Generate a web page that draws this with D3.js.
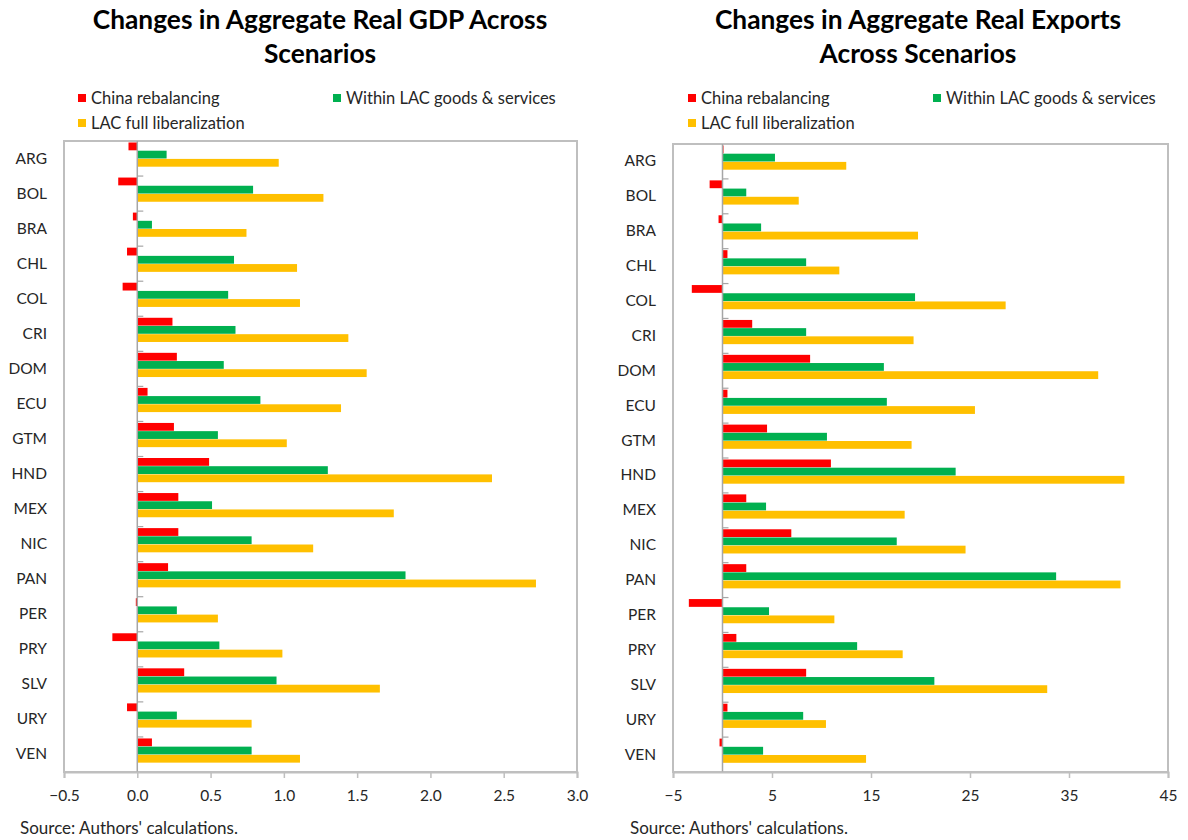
<!DOCTYPE html>
<html lang="en">
<head>
<meta charset="UTF-8">
<title>Changes Across Scenarios</title>
<script src="https://d3js.org/d3.v7.min.js"></script>
<style>
  body { margin: 0; background: #fff; }
  svg text { font-family: Lato, "Open Sans", sans-serif; fill: #262626; }
</style>
</head>
<body>
<svg id="chart" width="1188" height="840"></svg>
<script>
// countries, top to bottom
var countries = ["ARG","BOL","BRA","CHL","COL","CRI","DOM","ECU","GTM","HND","MEX","NIC","PAN","PER","PRY","SLV","URY","VEN"];

var seriesNames = ["China rebalancing", "Within LAC goods & services", "LAC full liberalization"];
var seriesColors = ["#ff0000", "#00b050", "#ffc000"];

// real GDP, % change
var gdpChina  = [-0.06,-0.13,-0.03,-0.07,-0.10,0.24,0.27,0.07,0.25,0.49,0.28,0.28,0.21,-0.01,-0.17,0.32,-0.07,0.10];
var gdpWithin = [0.20,0.79,0.10,0.66,0.62,0.67,0.59,0.84,0.55,1.30,0.51,0.78,1.83,0.27,0.56,0.95,0.27,0.78];
var gdpFull   = [0.965,1.27,0.745,1.09,1.11,1.44,1.565,1.39,1.02,2.42,1.75,1.20,2.72,0.55,0.99,1.655,0.78,1.11];
var gdpTicks  = [-0.5,0,0.5,1,1.5,2,2.5,3];

// real exports, % change
var expChina  = [0.1,-1.3,-0.4,0.5,-3.1,3.0,8.85,0.5,4.5,10.95,2.4,6.95,2.4,-3.4,1.4,8.45,0.5,-0.3];
var expWithin = [5.3,2.4,3.9,8.45,19.45,8.45,16.3,16.6,10.55,23.55,4.4,17.6,33.7,4.7,13.6,21.4,8.15,4.1];
var expFull   = [12.5,7.7,19.75,11.8,28.6,19.3,37.95,25.5,19.1,40.6,18.4,24.55,40.2,11.3,18.2,32.8,10.45,14.5];
var expTicks  = [-5,5,15,25,35,45];

var svg = d3.select("#chart");

function drawChart(cfg) {
  var g = svg.append("g");

  // title
  g.selectAll(".title").data(cfg.title).enter().append("text")
    .attr("x", cfg.titleX)
    .attr("y", function(d, i) { return 29 + i * 34; })
    .attr("text-anchor", "middle")
    .style("font-size", "26.3px")
    .style("font-weight", "bold")
    .style("fill", "#000")
    .text(function(d) { return d; });

  // legend
  var leg = [
    { x: cfg.legX, y: 98 },
    { x: cfg.legX2, y: 98 },
    { x: cfg.legX, y: 123 }
  ];
  seriesNames.forEach(function(name, i) {
    g.append("rect")
      .attr("x", leg[i].x).attr("y", leg[i].y - 4)
      .attr("width", 8).attr("height", 8)
      .attr("fill", seriesColors[i]);
    g.append("text")
      .attr("x", leg[i].x + 13).attr("y", leg[i].y + 5.5)
      .style("font-size", "16.5px")
      .text(name);
  });

  var x = d3.scaleLinear().domain(cfg.domain).range([cfg.left, cfg.right]);
  var y = d3.scaleBand().domain(countries).range([cfg.top, cfg.bottom]);
  var barH = 8.2;

  // plot frame
  g.append("rect")
    .attr("x", cfg.left).attr("y", cfg.top)
    .attr("width", cfg.right - cfg.left).attr("height", cfg.bottom - cfg.top)
    .attr("fill", "none").attr("stroke", "#bfbfbf").attr("stroke-width", 2);

  // bars
  cfg.series.forEach(function(vals, s) {
    g.append("g").selectAll("rect").data(vals).enter().append("rect")
      .attr("x", function(d) { return x(Math.min(0, d)); })
      .attr("y", function(d, i) { return y(countries[i]) + 1.5 + s * barH; })
      .attr("width", function(d) { return Math.max(1, Math.abs(x(d) - x(0))); })
      .attr("height", barH - 0.4)
      .attr("fill", seriesColors[s]);
  });

  // zero line with category ticks
  g.append("line")
    .attr("x1", x(0)).attr("x2", x(0))
    .attr("y1", cfg.top).attr("y2", cfg.bottom)
    .attr("stroke", "#a6a6a6").attr("stroke-width", 1.5);
  g.append("g").selectAll("line").data(countries.slice(1)).enter().append("line")
    .attr("x1", x(0)).attr("x2", x(0) + 6)
    .attr("y1", function(d) { return y(d); })
    .attr("y2", function(d) { return y(d); })
    .attr("stroke", "#a6a6a6").attr("stroke-width", 1.2);

  // category labels
  g.append("g").selectAll("text").data(countries).enter().append("text")
    .attr("x", cfg.left - 17)
    .attr("y", function(d) { return y(d) + y.bandwidth() / 2 + 5; })
    .attr("text-anchor", "end")
    .style("font-size", "15.5px")
    .text(function(d) { return d; });

  // value axis
  var axis = g.append("g")
    .attr("transform", "translate(0," + cfg.bottom + ")")
    .call(d3.axisBottom(x).tickValues(cfg.ticks).tickSize(6).tickPadding(12)
      .tickFormat(cfg.fmt));
  axis.select(".domain").attr("stroke", "#bfbfbf").attr("stroke-width", 2);
  axis.selectAll(".tick line").attr("stroke", "#bfbfbf").attr("stroke-width", 1.5);
  axis.selectAll(".tick text")
    .style("font-size", "15.5px")
    .style("font-family", "Lato, 'Open Sans', sans-serif")
    .attr("fill", "#262626");

  // source
  g.append("text")
    .attr("x", cfg.srcX).attr("y", 834)
    .style("font-size", "17px")
    .text("Source: Authors' calculations.");
}

drawChart({
  title: ["Changes in Aggregate Real GDP Across", "Scenarios"],
  titleX: 320,
  legX: 78, legX2: 333,
  left: 64, right: 577, top: 141, bottom: 772,
  domain: [-0.5, 3],
  ticks: gdpTicks,
  fmt: d3.format(".1f"),
  series: [gdpChina, gdpWithin, gdpFull],
  srcX: 20
});

drawChart({
  title: ["Changes in Aggregate Real Exports", "Across Scenarios"],
  titleX: 918,
  legX: 688, legX2: 933,
  left: 673, right: 1168, top: 144, bottom: 772,
  domain: [-5, 45],
  ticks: expTicks,
  fmt: d3.format("d"),
  series: [expChina, expWithin, expFull],
  srcX: 630
});
</script>
</body>
</html>
